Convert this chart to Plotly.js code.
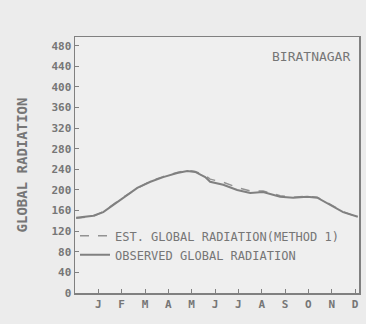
<!DOCTYPE html>
<html>
<head>
<meta charset="utf-8">
<script src="https://cdn.plot.ly/plotly-3.0.1.min.js"></script>
<style>html,body{margin:0;padding:0;background:#ececec;}#chart{width:366px;height:324px;}</style>
</head>
<body>
<div id="chart"></div>
<script>
// Month position (1 = Jan ... 12 = Dec)
const monthPos = [0.05, 0.79, 1.21, 1.94, 2.67, 3.23, 3.78, 4.38, 4.81, 5.15, 5.58, 5.79, 6.35, 6.95, 7.51, 8.06, 8.79, 9.35, 9.95, 10.38, 10.8, 11.49, 12.12];
const observed = [146, 150, 157, 181, 204, 216, 225, 233, 237, 235, 225, 216, 210, 200, 194, 196, 187, 185, 187, 185, 175, 157, 148];
const estimated = [145, 149, 158, 182, 203, 217, 226, 234, 238, 236, 228, 221, 215, 205, 198, 198, 189, 186, 188, 186, 176, 158, 147];
const monthTicks = [1, 2, 3, 4, 5, 6, 7, 8, 9, 10, 11, 12];
const monthLabels = ['J', 'F', 'M', 'A', 'M', 'J', 'J', 'A', 'S', 'O', 'N', 'D'];
const yTicks = [0, 40, 80, 120, 160, 200, 240, 280, 320, 360, 400, 440, 480];

const ink = '#808080';
const txt = '#767676';
const mono = 'DejaVu Sans Mono';
const tickFont = {family: mono, size: 11, color: txt, weight: 'bold'};

const traces = [
  {x: monthPos, y: estimated, mode: 'lines', name: 'EST. GLOBAL RADIATION(METHOD 1)',
   line: {color: '#929292', width: 1.5, dash: 'dash'}},
  {x: monthPos, y: observed, mode: 'lines', name: 'OBSERVED GLOBAL RADIATION',
   line: {color: ink, width: 2}}
];

const layout = {
  width: 366, height: 324,
  margin: {l: 75, r: 7, t: 37, b: 31},
  paper_bgcolor: '#ececec', plot_bgcolor: '#efefef',
  font: {family: mono, size: 11, color: txt},
  showlegend: true,
  legend: {x: 0.0, y: 0.28, xanchor: 'left', yanchor: 'top', bgcolor: 'rgba(0,0,0,0)',
           font: {family: mono, size: 12, color: txt},
           tracegroupgap: 0, itemwidth: 20},
  xaxis: {range: [0, 12.17], tickvals: monthTicks, ticktext: monthLabels,
          showgrid: false, zeroline: false, showline: true, linecolor: ink, linewidth: 1.5,
          mirror: true, ticks: 'inside', ticklen: 4, tickcolor: ink, tickfont: tickFont},
  yaxis: {range: [0, 497], tickvals: yTicks, showgrid: false, zeroline: false,
          showline: true, linecolor: ink, linewidth: 1.5, mirror: true,
          ticks: 'inside', ticklen: 4, tickcolor: ink, tickfont: tickFont,
          title: {text: 'GLOBAL RADIATION', font: {family: mono, size: 14, color: txt, weight: 'bold'}, standoff: 20}},
  annotations: [{xref: 'paper', yref: 'paper', x: 0.975, y: 0.925, xanchor: 'right', yanchor: 'middle',
                 text: 'BIRATNAGAR', showarrow: false,
                 font: {family: mono, size: 13, color: txt}}]
};

Plotly.newPlot('chart', traces, layout, {displayModeBar: false, staticPlot: true});
</script>
</body>
</html>
